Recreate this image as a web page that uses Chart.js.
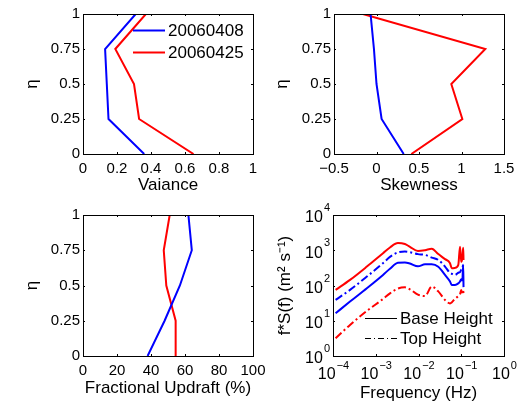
<!DOCTYPE html>
<html>
<head>
<meta charset="utf-8">
<script src="https://cdn.jsdelivr.net/npm/chart.js@4.4.1/dist/chart.umd.min.js"></script>
<style>
  body { margin: 0; background: #fff; }
  #wrap { position: relative; width: 524px; height: 405px; }
  #wrap canvas { position: absolute; left: 0; top: 0; }
</style>
</head>
<body>
<div id="wrap">
  <canvas id="cVar" width="524" height="405"></canvas>
  <canvas id="cSkew" width="524" height="405"></canvas>
  <canvas id="cUpd" width="524" height="405"></canvas>
  <canvas id="cSpec" width="524" height="405"></canvas>
</div>
<script>
// profile heights (normalised)
const eta = [0, 0.25, 0.5, 0.75, 1];
const dayA = '20060408';
const dayB = '20060425';

const varianceA = [0.36, 0.15, 0.14, 0.13, 0.31];
const varianceB = [0.65, 0.33, 0.30, 0.19, 0.37];
const skewA = [0.32, 0.06, 0.0, -0.03, -0.07];
const skewB = [0.41, 1.01, 0.88, 1.28, -0.16];
const updraftA = [38, 48, 57, 64, 62];
const updraftB = [54.5, 54.5, 49, 47.5, 51];

// spectra f*S(f)
const freq = [1.15e-4, 2.5e-4, 6.2e-4, 1.48e-3, 2.15e-3, 3.3e-3, 4.8e-3, 6.3e-3, 9.7e-3, 0.0142,
  0.0204, 0.029, 0.0417, 0.0546, 0.0598, 0.0715, 0.0853, 0.0935, 0.1, 0.106, 0.111, 0.113];
const baseA = [16.3, 35, 84, 200, 300, 440, 450, 420, 350, 400,
  400, 340, 200, 130, 104, 104, 115, 130, 150, 140, 385, 90];
const baseB = [75, 144, 344, 827, 1200, 1600, 1500, 1250, 950, 1000,
  1100, 780, 560, 430, 310, 316, 385, 1250, 470, 600, 1170, 530];
const topA = [39, 75, 179, 430, 650, 870, 920, 880, 776, 740,
  620, 533, 345, 225, 215, 200, 230, 240, 280, 300, 385, 330];
const topB = [3.2, 7.6, 19, 41.5, 60, 82, 89, 78, 55, 50,
  93, 68, 39, 31, 33, 42, 50, 56, 75, 60, 70, 60];

const powTicksX = [1e-4, 1e-3, 1e-2, 1e-1, 1];
const powTicksY = [1, 10, 100, 1000, 10000];

const W = 524, H = 405;
const FONT = "'Liberation Sans', Arial, Helvetica, sans-serif";
const LH = 17 * 1.2;
const BLUE = '#0000ff', RED = '#ff0000';
const DASHDOT = [8, 3, 2, 3];

Chart.defaults.font.family = FONT;
Chart.defaults.color = '#000';

function profile(xs, color, label) {
  return {
    label: label,
    data: xs.map((x, i) => ({ x: x, y: eta[i] })),
    showLine: true, borderColor: color, borderWidth: 2, pointRadius: 0, fill: false
  };
}

function spectrum(ys, color, dash) {
  return {
    data: ys.map((y, i) => ({ x: freq[i], y: y })),
    showLine: true, borderColor: color, borderWidth: 2, pointRadius: 0, fill: false,
    borderDash: dash, cubicInterpolationMode: 'monotone'
  };
}

function expText(v) {
  return String(Math.round(Math.log10(v))).replace('-', '\u2212');
}

const plainTick = v => String(v).replace('-', '\u2212');

// box, inward ticks, power labels and legend, MATLAB style
function boxPlugin(extra) {
  return {
    id: 'box',
    afterDatasetsDraw(chart) {
      const ctx = chart.ctx, a = chart.chartArea;
      const xs = chart.scales.x, ys = chart.scales.y;
      ctx.save();
      ctx.strokeStyle = '#000';
      ctx.lineWidth = 1;
      ctx.setLineDash([]);
      ctx.strokeRect(Math.round(a.left) + 0.5, Math.round(a.top) + 0.5,
        Math.round(a.right - a.left), Math.round(a.bottom - a.top));
      ctx.beginPath();
      xs.ticks.forEach(t => {
        const p = Math.round(xs.getPixelForValue(t.value)) + 0.5;
        ctx.moveTo(p, a.bottom); ctx.lineTo(p, a.bottom - 2);
        ctx.moveTo(p, a.top); ctx.lineTo(p, a.top + 2);
      });
      ys.ticks.forEach(t => {
        const p = Math.round(ys.getPixelForValue(t.value)) + 0.5;
        ctx.moveTo(a.left, p); ctx.lineTo(a.left + 2, p);
        ctx.moveTo(a.right, p); ctx.lineTo(a.right - 2, p);
      });
      ctx.stroke();

      if (extra.pow) {
        ctx.fillStyle = '#000';
        ctx.textBaseline = 'middle';
        ctx.textAlign = 'left';
        xs.ticks.forEach(t => {
          const px = xs.getPixelForValue(t.value);
          const e = expText(t.value);
          ctx.font = '16px ' + FONT;
          const wb = ctx.measureText('10').width;
          ctx.font = '11px ' + FONT;
          const we = ctx.measureText(e).width;
          const x0 = px - (wb + we) / 2;
          ctx.font = '16px ' + FONT;
          ctx.fillText('10', x0, a.bottom + 19);
          ctx.font = '11px ' + FONT;
          ctx.fillText(e, x0 + wb + 1, a.bottom + 10);
        });
        ys.ticks.forEach(t => {
          const py = ys.getPixelForValue(t.value);
          const e = expText(t.value);
          ctx.font = '16px ' + FONT;
          const wb = ctx.measureText('10').width;
          ctx.font = '11px ' + FONT;
          const we = ctx.measureText(e).width;
          const x0 = a.left - 3 - we - wb - 1;
          ctx.font = '16px ' + FONT;
          ctx.fillText('10', x0, py + 3);
          ctx.font = '11px ' + FONT;
          ctx.fillText(e, x0 + wb + 1, py - 7);
        });
      }

      if (extra.legend) {
        const lg = extra.legend;
        lg.items.forEach((it, i) => {
          const y = lg.ys[i];
          ctx.strokeStyle = it.color;
          ctx.lineWidth = it.width;
          ctx.setLineDash(it.dash || []);
          ctx.beginPath();
          ctx.moveTo(lg.x1, y + 0.5); ctx.lineTo(lg.x2, y + 0.5);
          ctx.stroke();
          ctx.setLineDash([]);
          ctx.fillStyle = '#000';
          ctx.font = '17px ' + FONT;
          ctx.textAlign = 'left';
          ctx.textBaseline = 'middle';
          ctx.fillText(it.text, lg.xt, y + 1);
        });
      }
      ctx.restore();
    }
  };
}

function panel(id, box, xScale, yScale, datasets, extra) {
  const yLeft = box.ytx - LH / 2;
  const yW = box.l - yLeft;
  const xH = box.xty + LH / 2 - box.b;
  const common = {
    grid: { display: false, drawTicks: false },
    border: { display: false }
  };
  xScale = Object.assign({}, common, xScale, {
    position: 'bottom',
    afterFit: s => { s.height = xH; },
    title: { display: true, text: xScale.titleText, font: { size: 17 }, padding: 0 }
  });
  xScale.ticks = Object.assign({ font: { size: 15 }, padding: 6, maxRotation: 0, autoSkip: false, callback: plainTick }, xScale.ticks);
  yScale = Object.assign({}, common, yScale, {
    position: 'left',
    afterFit: s => { s.width = yW; },
    title: { display: true, text: yScale.titleText, font: { size: 17 }, padding: 0 }
  });
  yScale.ticks = Object.assign({ font: { size: 15 }, padding: 3, autoSkip: false, callback: plainTick }, yScale.ticks);

  new Chart(document.getElementById(id), {
    type: 'scatter',
    data: { datasets: datasets },
    options: {
      responsive: false,
      animation: false,
      events: [],
      layout: { padding: { left: yLeft, top: box.t, right: W - box.r, bottom: H - box.b - xH } },
      plugins: { legend: { display: false }, tooltip: { enabled: false } },
      scales: { x: xScale, y: yScale }
    },
    plugins: [boxPlugin(extra || {})]
  });
}

const etaAxis = { type: 'linear', min: 0, max: 1, titleText: '\u03b7', ticks: { stepSize: 0.25 } };

panel('cVar', { l: 83, t: 14, r: 253, b: 154, ytx: 32, xty: 185 },
  { type: 'linear', min: 0, max: 1, titleText: 'Vaiance', ticks: { stepSize: 0.2 } },
  etaAxis,
  [profile(varianceA, BLUE, dayA), profile(varianceB, RED, dayB)],
  { legend: { x1: 133, x2: 165, xt: 168, ys: [30, 52],
    items: [{ text: dayA, color: BLUE, width: 2 }, { text: dayB, color: RED, width: 2 }] } });

panel('cSkew', { l: 334, t: 14, r: 504, b: 154, ytx: 282, xty: 185 },
  { type: 'linear', min: -0.5, max: 1.5, titleText: 'Skewness', ticks: { stepSize: 0.5 } },
  etaAxis,
  [profile(skewA, BLUE, dayA), profile(skewB, RED, dayB)]);

panel('cUpd', { l: 83, t: 215, r: 253, b: 356, ytx: 32, xty: 388 },
  { type: 'linear', min: 0, max: 100, titleText: 'Fractional Updraft (%)', ticks: { stepSize: 20 } },
  etaAxis,
  [profile(updraftA, BLUE, dayA), profile(updraftB, RED, dayB)]);

panel('cSpec', { l: 333, t: 215, r: 504, b: 356, ytx: 285, xty: 393 },
  { type: 'logarithmic', min: 1e-4, max: 1, titleText: 'Frequency (Hz)',
    afterBuildTicks: s => { s.ticks = powTicksX.map(v => ({ value: v })); },
    ticks: { display: false } },
  { type: 'logarithmic', min: 1, max: 1e4, titleText: 'f*S(f) (m\u00b2 s\u207b\u00b9)',
    afterBuildTicks: s => { s.ticks = powTicksY.map(v => ({ value: v })); },
    ticks: { display: false } },
  [spectrum(baseB, RED, []), spectrum(topA, BLUE, DASHDOT), spectrum(baseA, BLUE, []), spectrum(topB, RED, DASHDOT)],
  { pow: true,
    legend: { x1: 365, x2: 397, xt: 400, ys: [318, 338],
      items: [{ text: 'Base Height', color: '#000', width: 1 },
        { text: 'Top Height', color: '#000', width: 1, dash: [6, 3, 1, 3] }] } });
</script>
</body>
</html>
